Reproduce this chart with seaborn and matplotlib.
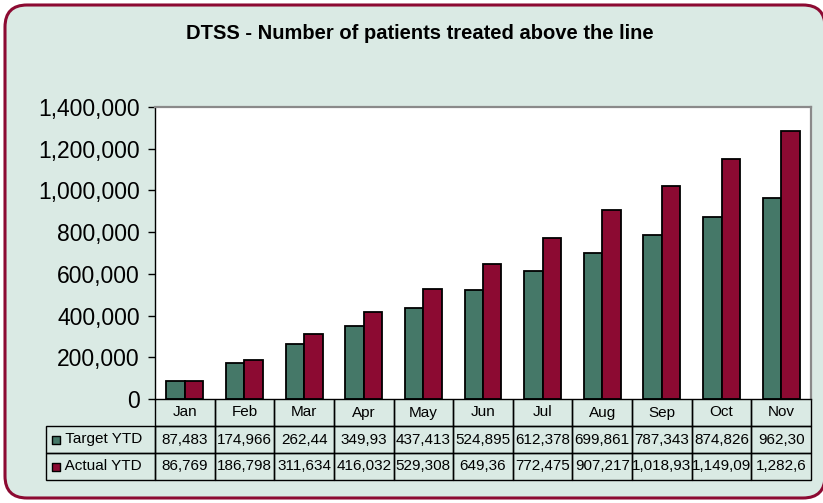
import matplotlib
matplotlib.use("Agg")
import matplotlib.pyplot as plt
import seaborn as sns
import pandas as pd
import numpy as np
from matplotlib.patches import FancyBboxPatch
from matplotlib.ticker import FuncFormatter

# --- data ---
months = ["Jan", "Feb", "Mar", "Apr", "May", "Jun", "Jul", "Aug", "Sep", "Oct", "Nov"]
target_ytd = [87483, 174966, 262449, 349932, 437413, 524895, 612378, 699861, 787343, 874826, 962309]
actual_ytd = [86769, 186798, 311634, 416032, 529308, 649360, 772475, 907217, 1018930, 1149090, 1282600]
# what the table cells show (Excel cuts off what doesn't fit)
target_cells = ["87,483", "174,966", "262,44", "349,93", "437,413", "524,895", "612,378",
                "699,861", "787,343", "874,826", "962,30"]
actual_cells = ["86,769", "186,798", "311,634", "416,032", "529,308", "649,36", "772,475",
                "907,217", "1,018,93", "1,149,09", "1,282,6"]
series_names = ["Target YTD", "Actual YTD"]
yticks = [0, 200000, 400000, 600000, 800000, 1000000, 1200000, 1400000]

GREEN = "#457868"
MAROON = "#8C0A32"
MINT = "#DAEAE4"

df = pd.DataFrame({
    "month": months * 2,
    "value": target_ytd + actual_ytd,
    "series": [series_names[0]] * len(months) + [series_names[1]] * len(months),
})

sns.set_style("white")
plt.rcParams["font.family"] = ["Liberation Sans", "DejaVu Sans"]
plt.rcParams["text.color"] = "black"

W, H = 823, 503
fig = plt.figure(figsize=(W / 100, H / 100), dpi=100, facecolor="white")

# rounded frame (behind the axes), right side runs just off the canvas
frame = FancyBboxPatch((0.05, 0.05), 8.20, 4.93, boxstyle="round,pad=0,rounding_size=0.22",
                       transform=fig.dpi_scale_trans, facecolor=MINT, edgecolor=MAROON,
                       linewidth=2.2, zorder=-5)
fig.patches.append(frame)

# plot area in pixels: left 155, right 811, top 107, bottom 399
ax_l, ax_r, ax_t, ax_b = 155, 811, 107, 399
ax = fig.add_axes([ax_l / W, 1 - ax_b / H, (ax_r - ax_l) / W, (ax_b - ax_t) / H])
ax.set_zorder(1)
ax.set_facecolor("white")

sns.barplot(data=df, x="month", y="value", hue="series", palette=[GREEN, MAROON],
            edgecolor="black", linewidth=1.3, width=0.62, ax=ax, legend=False,
            saturation=1)

ax.set_ylim(0, 1400000)
ax.set_xlim(-0.5, len(months) - 0.5)
ax.set_yticks(yticks)
ax.yaxis.set_major_formatter(FuncFormatter(lambda v, p: f"{int(v):,}"))
ax.tick_params(axis="y", left=True, length=5, width=1, pad=6, labelsize=16.5,
               color="black", labelcolor="black")
ax.tick_params(axis="x", bottom=False, labelbottom=False)
ax.set_xlabel("")
ax.set_ylabel("")
for s in ["left", "bottom"]:
    ax.spines[s].set_color("black")
    ax.spines[s].set_linewidth(1)
for s in ["top", "right"]:
    ax.spines[s].set_color("#8a8a8a")
    ax.spines[s].set_linewidth(1.6)

# data table under the chart
ax_w_px = ax_r - ax_l
ax_h_px = ax_b - ax_t
label_w_px = 109
row_h_px = 27
cell_text = [[""] + months,
             ["  " + series_names[0]] + target_cells,
             ["  " + series_names[1]] + actual_cells]
col_w = [label_w_px] + [ax_w_px / len(months)] * len(months)
tbl = ax.table(cellText=cell_text, colWidths=col_w, cellLoc="center",
               bbox=[-label_w_px / ax_w_px, -3 * row_h_px / ax_h_px,
                     (label_w_px + ax_w_px) / ax_w_px, 3 * row_h_px / ax_h_px])
tbl.auto_set_font_size(False)
tbl.set_fontsize(11)
for (r, c), cell in tbl.get_celld().items():
    cell.set_facecolor("none")
    cell.set_edgecolor("black")
    cell.set_linewidth(1)
    if r == 0 and c == 0:
        cell.visible_edges = ""
    elif r == 0:
        cell.visible_edges = "LRB"
    if c == 0 and r > 0:
        cell._loc = "left"
        cell.get_text().set_ha("left")
    cell.get_text().set_color("black")

# legend keys inside the row-label cells
key_x = (55.5 - ax_l) / ax_w_px
for i, col in enumerate([GREEN, MAROON]):
    ky = -(1.5 + i) * row_h_px / ax_h_px
    ax.scatter([key_x], [ky], marker="s", s=30, color=col, edgecolor="black",
               linewidth=1, transform=ax.transAxes, clip_on=False, zorder=5)

fig.text(0.51, 0.934, "DTSS - Number of patients treated above the line",
         ha="center", va="center", fontsize=14.5, fontweight="bold", color="black")

fig.savefig("out.png", dpi=100, facecolor="white")
